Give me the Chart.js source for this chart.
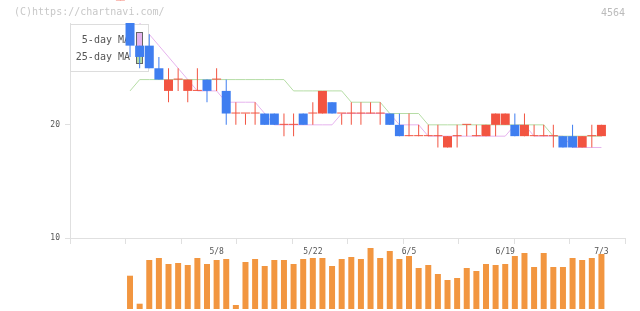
<!DOCTYPE html>
<html><head><meta charset="utf-8">
<script src="https://cdn.jsdelivr.net/npm/chart.js@4/dist/chart.umd.min.js"></script>
<style>html,body{margin:0;padding:0;background:#fff;overflow:hidden}</style>
</head><body>
<canvas id="c" width="640" height="311"></canvas>
<script>
// ---- data (index -1 = day before first shown session) ----
const FIRST = -1;
const dates = ['4/19','4/20','4/21','4/24','4/25','4/26','4/27','4/28','5/1','5/2','5/8','5/9','5/10','5/11','5/12','5/15','5/16','5/17','5/18','5/19','5/22','5/23','5/24','5/25','5/26','5/29','5/30','5/31','6/1','6/2','6/5','6/6','6/7','6/8','6/9','6/12','6/13','6/14','6/15','6/16','6/19','6/20','6/21','6/22','6/23','6/26','6/27','6/28','6/29','6/30','7/3'];
const dateLabels = ['5/8','5/22','6/5','6/19','7/3'];
const openP  = [31,29,27,27,25,23,24,23,23,24,24, 23,21,21,21,21,21,20,20,21,21, 21,22,21,21,21,21,21,21,20,19, 19,19,19,18,19,20,19,19,20,20, 20,19,19,19,19,19,19,18,19,19];
const highP  = [33,29,27,28,26,25,25,24,25,24,25, 24,22,21,22,21,21,21,21,21,22, 23,22,21,22,22,22,22,21,21,21, 20,20,20,19,20,20,20,20,21,21, 21,21,20,20,20,19,20,19,20,20];
const lowP   = [31,26,25,25,24,22,23,22,23,22,23, 20,20,20,20,20,20,19,19,20,20, 21,21,20,20,20,21,20,20,19,19, 19,19,18,18,18,19,19,19,19,20, 19,19,19,19,18,18,18,18,18,19];
const closeP = [33,27,26,25,24,24,24,24,23,23,24, 21,21,21,21,20,20,20,20,20,21, 23,21,21,21,21,21,21,20,19,19, 19,19,19,19,19,20,19,20,21,21, 19,20,19,19,19,18,18,19,19,20];
const ma5    = [null,30,29,28,27,26,25,24,23,23,23, 22,22,22,22,21,20,20,20,20,20, 20,20,21,21,21,21,21,21,20,20, 20,19,19,19,19,19,19,19,19,19, 20,20,19,19,19,19,18,18,18,18];
const ma25   = [null,23,24,24,24,24,24,24,24,24,24, 24,24,24,24,24,24,24,23,23,23, 23,23,23,22,22,22,22,21,21,21, 21,20,20,20,20,20,20,20,20,20, 20,20,20,20,19,19,19,19,19,19];
const volume = [null,3330,530,4900,5100,4500,4600,4400,5100,4500,4900, 5000,400,4700,5000,4300,4900,4900,4500,5000,5100, 5100,4300,5000,5200,5000,6100,5100,5800,5000,5300, 4100,4400,3500,2900,3100,4100,3800,4500,4400,4500, 5300,5600,4200,5600,4200,4200,5100,4900,5100,5500]; // thousand shares
const priceTicks = [10, 20];
const code = '4564';
const credit = '(C)https://chartnavi.com/';

// ---- style ----
const RED = '#F25441', BLUE = '#3F7EF0', VOL = '#F29640';
const MA5C = '#E6B3EE', MA25C = '#B5DDA5';
const AXIS = '#E0E0E0';
const MONO = '"DejaVu Sans Mono", "Liberation Mono", monospace';

const xs = dates.map((d, i) => i + FIRST);
const up = i => closeP[i] >= openP[i];
const candleColor = ctx => up(ctx.dataIndex) ? RED : BLUE;

const wickData = xs.map((x, i) => ({x, y: [lowP[i], highP[i]]}));
const bodyData = xs.map((x, i) => ({x, y: [openP[i], closeP[i]]}));
const ma5Data = xs.map((x, i) => ({x, y: ma5[i]}));
const ma25Data = xs.map((x, i) => ({x, y: ma25[i]}));
const volData = xs.map((x, i) => ({x, y: volume[i] == null ? null : [0, volume[i]]}));
const labelTicks = dateLabels.map(l => dates.indexOf(l) + FIRST);

const X_MIN = -6.24, X_MAX = 51.45;

const overlay = {
  id: 'overlay',
  beforeDraw(chart) {
    const c = chart.ctx;
    c.save();
    c.font = '10px ' + MONO;
    c.textBaseline = 'middle';
    c.fillStyle = '#C8C8C8';
    c.textAlign = 'left';
    c.fillText(credit, 14, 12.5);
    c.fillStyle = '#BBBBBB';
    c.textAlign = 'right';
    c.fillText(code, 625, 13);
    c.restore();
  },
  beforeDatasetsDraw(chart) { chart.$legendDone = false; },
  beforeDatasetDraw(chart, args) {
    if (args.meta.type !== 'bar' || chart.$legendDone) return;
    chart.$legendDone = true;
    const c = chart.ctx, a = chart.chartArea;
    c.save();
    c.fillStyle = '#fff';
    c.strokeStyle = '#DDDDDD';
    c.lineWidth = 1;
    c.fillRect(a.left, 24, 78, 47);
    c.strokeRect(a.left + 0.5, 24.5, 78, 47);
    c.font = '10px ' + MONO;
    c.fillStyle = '#555';
    c.textAlign = 'right';
    c.textBaseline = 'middle';
    c.fillText('5-day MA', 130, 40);
    c.fillText('25-day MA', 130, 57);
    c.strokeStyle = '#666';
    c.fillStyle = MA5C;
    c.fillRect(136.5, 32.5, 6, 14); c.strokeRect(136.5, 32.5, 6, 14);
    c.fillStyle = MA25C;
    c.fillRect(136.5, 49.5, 6, 14); c.strokeRect(136.5, 49.5, 6, 14);
    c.restore();
  }
};

new Chart(document.getElementById('c'), {
  type: 'bar',
  data: {
    datasets: [
      {type: 'line', data: ma5Data, borderColor: MA5C, borderWidth: 1, pointRadius: 0, tension: 0, order: 11, yAxisID: 'y'},
      {type: 'line', data: ma25Data, borderColor: MA25C, borderWidth: 1, pointRadius: 0, tension: 0, order: 10, yAxisID: 'y'},
      {data: wickData, backgroundColor: candleColor, barThickness: 1, grouped: false, inflateAmount: 0, borderWidth: 0, clip: false, order: 3, yAxisID: 'y'},
      {data: bodyData, backgroundColor: candleColor, barThickness: 9, minBarLength: 1, grouped: false, inflateAmount: 0, borderWidth: 0, clip: false, order: 2, yAxisID: 'y'},
      {data: volData, backgroundColor: VOL, barThickness: 6, grouped: false, inflateAmount: 0, borderWidth: 0, clip: false, order: 1, yAxisID: 'yv'}
    ]
  },
  options: {
    responsive: false,
    devicePixelRatio: 1,
    animation: false,
    events: [],
    layout: {padding: {top: 23, right: 15, bottom: 0, left: 0}},
    plugins: {legend: {display: false}, tooltip: {enabled: false}},
    scales: {
      x: {type: 'linear', min: X_MIN, max: X_MAX, display: false, offset: false, grid: {offset: false}},
      xg: {
        type: 'linear', position: 'bottom', weight: 1, min: 0, max: 10, offset: false,
        ticks: {display: false, stepSize: 1},
        grid: {drawOnChartArea: false, tickLength: 6, color: AXIS, offset: false},
        border: {color: AXIS},
        afterFit: s => { s.height = 6; }
      },
      xd: {
        type: 'linear', position: 'bottom', weight: 2, min: X_MIN, max: X_MAX, offset: false,
        grid: {display: false, drawTicks: false, offset: false},
        border: {display: false},
        ticks: {padding: 3, autoSkip: false, maxRotation: 0, color: '#555', font: {family: MONO, size: 8},
          callback: v => dates[v - FIRST]},
        afterBuildTicks: s => { s.ticks = labelTicks.map(v => ({value: v})); },
        afterFit: s => { s.height = 67; }
      },
      y: {
        type: 'linear', position: 'left', min: 10, max: 29,
        afterBuildTicks: s => { s.ticks = priceTicks.map(v => ({value: v})); },
        grid: {drawOnChartArea: false, tickLength: 5, color: AXIS},
        border: {color: AXIS},
        ticks: {padding: 5, color: '#555', font: {family: MONO, size: 8}},
        afterFit: s => { s.width = 70; }
      },
      yv: {type: 'linear', display: false, min: 7100, max: 28600}
    }
  },
  plugins: [overlay]
});
</script>
</body></html>
